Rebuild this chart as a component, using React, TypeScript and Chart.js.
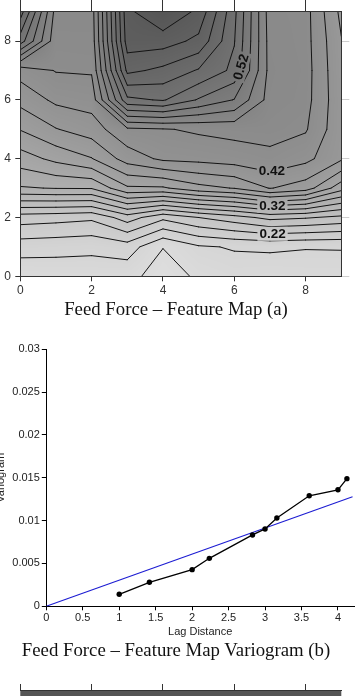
import { useEffect, useRef } from "react";
import { Chart, registerables } from "chart.js";

Chart.register(...registerables);

// Feed force feature map on the 10 x 10 grid: mapRowK holds the values along y = K for x = 0..9
const mapRow0 = [0.165, 0.167, 0.168, 0.1667, 0.15, 0.1633, 0.17, 0.168, 0.17, 0.17];
const mapRow1 = [0.1889, 0.1871, 0.1851, 0.1904, 0.1606, 0.1775, 0.1817, 0.183, 0.181, 0.1813];
const mapRow2 = [0.23, 0.2274, 0.224, 0.25, 0.225, 0.24, 0.2518, 0.266, 0.262, 0.255];
const mapRow3 = [0.3182, 0.321, 0.3215, 0.3568, 0.3573, 0.3733, 0.381, 0.401, 0.39, 0.348];
const mapRow4 = [0.3504, 0.3655, 0.379, 0.4089, 0.424, 0.4262, 0.43, 0.435, 0.4255, 0.403];
const mapRow5 = [0.381, 0.399, 0.41, 0.436, 0.4386, 0.443, 0.446, 0.447, 0.442, 0.405];
const mapRow6 = [0.4064, 0.4243, 0.4286, 0.535, 0.542, 0.518, 0.499, 0.452, 0.447, 0.405];
const mapRow7 = [0.4282, 0.441, 0.442, 0.585, 0.575, 0.558, 0.535, 0.453, 0.448, 0.403];
const mapRow8 = [0.53, 0.447, 0.448, 0.61, 0.609, 0.595, 0.541, 0.452, 0.447, 0.401];
const mapRow9 = [0.57, 0.452, 0.45, 0.615, 0.64, 0.615, 0.545, 0.45, 0.447, 0.395];
const featureMap = [mapRow0, mapRow1, mapRow2, mapRow3, mapRow4, mapRow5, mapRow6, mapRow7, mapRow8, mapRow9];

const mapXValues = [0, 1, 2, 3, 4, 5, 6, 7, 8, 9];
const mapYValues = [0, 1, 2, 3, 4, 5, 6, 7, 8, 9];
const contourLevels = [
  0.16, 0.18, 0.2, 0.22, 0.24, 0.26, 0.28, 0.3, 0.32, 0.34, 0.36, 0.38,
  0.4, 0.42, 0.44, 0.46, 0.48, 0.5, 0.52, 0.54, 0.56, 0.58, 0.6, 0.62,
];
const labelledLevels = [0.22, 0.32, 0.42, 0.52];
const mapTicks = [0, 2, 4, 6, 8];

// Experimental variogram of the map and its linear model
const lagDistance = [1, 1.414, 2, 2.236, 2.828, 3, 3.162, 3.606, 4, 4.123];
const variogramValues = [0.0014, 0.0028, 0.00428, 0.0056, 0.00833, 0.00903, 0.0103, 0.0129, 0.0136, 0.0149];
const modelLag = [0, 4.2];
const modelVariogram = [0, 0.0128];
const lagTicks = [0, 0.5, 1, 1.5, 2, 2.5, 3, 3.5, 4];
const variogramTicks = [0, 0.005, 0.01, 0.015, 0.02, 0.025, 0.03];

const SANS = "'Liberation Sans', Arial, sans-serif";
const SERIF = "'Liberation Serif', 'Times New Roman', serif";

// where along each labelled contour its value is written (data units)
const labelAnchors = [
  { x: 7.07, y: 1.56 },
  { x: 7.07, y: 2.34 },
  { x: 7.07, y: 3.5 },
  { x: 6.33, y: 7.11 },
];

function sampleMap(x: number, y: number): number {
  const nx = mapXValues.length;
  const ny = mapYValues.length;
  const fx = Math.min(Math.max(x, 0), nx - 1);
  const fy = Math.min(Math.max(y, 0), ny - 1);
  const i = Math.min(Math.floor(fx), nx - 2);
  const j = Math.min(Math.floor(fy), ny - 2);
  const tx = fx - i;
  const ty = fy - j;
  const z = featureMap;
  return (
    z[j][i] * (1 - tx) * (1 - ty) +
    z[j][i + 1] * tx * (1 - ty) +
    z[j + 1][i] * (1 - tx) * ty +
    z[j + 1][i + 1] * tx * ty
  );
}

function grayFor(v: number): number {
  return Math.round(Math.max(0, Math.min(255, 222 - (v - 0.15) * 279.6)));
}

type Seg = [number, number, number, number];

// marching squares on the grid, segments in data units
function contourSegments(level: number): Seg[] {
  const segs: Seg[] = [];
  const z = featureMap;
  for (let j = 0; j < mapYValues.length - 1; j++) {
    for (let i = 0; i < mapXValues.length - 1; i++) {
      const v0 = z[j][i];
      const v1 = z[j][i + 1];
      const v2 = z[j + 1][i + 1];
      const v3 = z[j + 1][i];
      const x0 = mapXValues[i], x1 = mapXValues[i + 1];
      const y0 = mapYValues[j], y1 = mapYValues[j + 1];
      const pts: [number, number][] = [];
      const edge = (va: number, vb: number, xa: number, ya: number, xb: number, yb: number) => {
        if (va < level !== vb < level) {
          const t = (level - va) / (vb - va);
          pts.push([xa + t * (xb - xa), ya + t * (yb - ya)]);
        }
      };
      edge(v0, v1, x0, y0, x1, y0);
      edge(v1, v2, x1, y0, x1, y1);
      edge(v2, v3, x1, y1, x0, y1);
      edge(v3, v0, x0, y1, x0, y0);
      if (pts.length === 2) {
        segs.push([pts[0][0], pts[0][1], pts[1][0], pts[1][1]]);
      } else if (pts.length === 4) {
        const c = (v0 + v1 + v2 + v3) / 4;
        if (c < level === v0 < level) {
          segs.push([pts[0][0], pts[0][1], pts[1][0], pts[1][1]]);
          segs.push([pts[2][0], pts[2][1], pts[3][0], pts[3][1]]);
        } else {
          segs.push([pts[0][0], pts[0][1], pts[3][0], pts[3][1]]);
          segs.push([pts[1][0], pts[1][1], pts[2][0], pts[2][1]]);
        }
      }
    }
  }
  return segs;
}

const contourPlugin = {
  id: "featureContours",
  beforeDraw(chart: any) {
    const { ctx, chartArea: a, scales } = chart;
    const xs = scales.x;
    const ys = scales.y;
    const left = Math.round(a.left);
    const top = Math.round(a.top);
    const w = Math.round(a.right) - left;
    const h = Math.round(a.bottom) - top;

    // shaded surface
    const off = document.createElement("canvas");
    off.width = w;
    off.height = h;
    const octx = off.getContext("2d")!;
    const img = octx.createImageData(w, h);
    for (let py = 0; py < h; py++) {
      const yv = ys.getValueForPixel(top + py + 0.5);
      for (let px = 0; px < w; px++) {
        const xv = xs.getValueForPixel(left + px + 0.5);
        const g = grayFor(sampleMap(xv, yv));
        const k = (py * w + px) * 4;
        img.data[k] = g;
        img.data[k + 1] = g;
        img.data[k + 2] = g;
        img.data[k + 3] = 255;
      }
    }
    octx.putImageData(img, 0, 0);
    ctx.drawImage(off, left, top);

    const toPx = (s: Seg): Seg => [
      xs.getPixelForValue(s[0]),
      ys.getPixelForValue(s[1]),
      xs.getPixelForValue(s[2]),
      ys.getPixelForValue(s[3]),
    ];
    const levelSegs = contourLevels.map((lv) => contourSegments(lv).map(toPx));

    // contour value labels
    ctx.save();
    ctx.font = `bold 13.5px ${SANS}`;
    const labels = labelledLevels.map((lv, li) => {
      const segs = levelSegs[contourLevels.findIndex((c) => Math.abs(c - lv) < 1e-9)];
      const tx = xs.getPixelForValue(labelAnchors[li].x);
      const ty = ys.getPixelForValue(labelAnchors[li].y);
      let best = { d: Infinity, x: tx, y: ty };
      for (const s of segs) {
        const dx = s[2] - s[0];
        const dy = s[3] - s[1];
        const len2 = dx * dx + dy * dy || 1;
        const t = Math.max(0, Math.min(1, ((tx - s[0]) * dx + (ty - s[1]) * dy) / len2));
        const px = s[0] + t * dx;
        const py = s[1] + t * dy;
        const d = Math.hypot(px - tx, py - ty);
        if (d < best.d) best = { d, x: px, y: py };
      }
      let sx = 0;
      let sy = 0;
      let rx = 0;
      let ry = 0;
      for (const s of segs) {
        const mx = (s[0] + s[2]) / 2;
        const my = (s[1] + s[3]) / 2;
        if (Math.hypot(mx - best.x, my - best.y) > 13) continue;
        let dx = s[2] - s[0];
        let dy = s[3] - s[1];
        const l = Math.hypot(dx, dy) || 1;
        dx /= l;
        dy /= l;
        if (rx === 0 && ry === 0) {
          rx = dx;
          ry = dy;
        } else if (dx * rx + dy * ry < 0) {
          dx = -dx;
          dy = -dy;
        }
        sx += dx;
        sy += dy;
      }
      let ang = Math.atan2(sy, sx);
      if (ang >= Math.PI / 2) ang -= Math.PI;
      if (ang < -Math.PI / 2) ang += Math.PI;
      if (ang > Math.PI / 3) ang -= Math.PI;
      const text = lv.toFixed(2);
      const tw = ctx.measureText(text).width;
      return { x: best.x, y: best.y, ang, text, hw: tw / 2 + 2, hh: 7 };
    });

    // contour lines, broken where a label sits
    ctx.beginPath();
    ctx.rect(a.left, a.top, a.right - a.left, a.bottom - a.top);
    for (const lb of labels) {
      const c = Math.cos(lb.ang);
      const s = Math.sin(lb.ang);
      const corners = [
        [-lb.hw, -lb.hh],
        [lb.hw, -lb.hh],
        [lb.hw, lb.hh],
        [-lb.hw, lb.hh],
      ].map(([u, v]) => [lb.x + u * c - v * s, lb.y + u * s + v * c]);
      ctx.moveTo(corners[0][0], corners[0][1]);
      for (let k = 1; k < 4; k++) ctx.lineTo(corners[k][0], corners[k][1]);
      ctx.closePath();
    }
    ctx.clip("evenodd");
    ctx.strokeStyle = "#141414";
    ctx.lineWidth = 1;
    ctx.lineJoin = "round";
    ctx.lineCap = "round";
    for (const segs of levelSegs) {
      ctx.beginPath();
      for (const s of segs) {
        ctx.moveTo(s[0], s[1]);
        ctx.lineTo(s[2], s[3]);
      }
      ctx.stroke();
    }
    ctx.restore();

    ctx.save();
    ctx.font = `bold 13.5px ${SANS}`;
    ctx.fillStyle = "#111";
    ctx.textAlign = "center";
    ctx.textBaseline = "middle";
    for (const lb of labels) {
      ctx.save();
      ctx.translate(lb.x, lb.y);
      ctx.rotate(lb.ang);
      ctx.fillText(lb.text, 0, 0.5);
      ctx.restore();
    }
    ctx.restore();
  },
};

const lowerMapPlugin = {
  id: "lowerMapSurface",
  beforeDraw(chart: any) {
    const { ctx, chartArea: a } = chart;
    ctx.save();
    ctx.fillStyle = "#555555";
    ctx.fillRect(a.left, a.top, a.right - a.left, a.bottom - a.top);
    ctx.restore();
  },
};

const setTicks = (values: number[]) => (s: any) => {
  s.ticks = values.map((v) => ({ value: v }));
};

function createMapChart(canvas: HTMLCanvasElement) {
  const tickFont = { family: SANS, size: 12 };
  return new Chart(canvas, {
    type: "scatter",
    data: { datasets: [] },
    options: {
      animation: false,
      responsive: false,
      devicePixelRatio: 1,
      layout: { padding: 0 },
      plugins: { legend: { display: false }, tooltip: { enabled: false } },
      scales: {
        x: {
          type: "linear",
          position: "bottom",
          min: 0,
          max: 9,
          afterBuildTicks: setTicks(mapTicks),
          afterFit: (s: any) => {
            s.height = 23.7;
          },
          grid: { drawOnChartArea: false, tickLength: 5, color: "#333" },
          border: { color: "#333" },
          ticks: { font: tickFont, color: "#333", padding: 2, maxRotation: 0 },
        },
        xTop: {
          type: "linear",
          axis: "x",
          position: "top",
          min: 0,
          max: 9,
          afterBuildTicks: setTicks(mapTicks),
          afterFit: (s: any) => {
            s.height = 9.3;
          },
          grid: { drawOnChartArea: false, tickLength: 12, color: "#333" },
          border: { color: "#333" },
          ticks: { display: false },
        },
        y: {
          type: "linear",
          position: "left",
          min: 0,
          max: 9,
          afterBuildTicks: setTicks(mapTicks),
          afterFit: (s: any) => {
            s.width = 20.3;
          },
          grid: { drawOnChartArea: false, tickLength: 5, color: "#333" },
          border: { color: "#333" },
          ticks: { font: tickFont, color: "#333", padding: 4.5 },
        },
        yRight: {
          type: "linear",
          axis: "y",
          position: "right",
          min: 0,
          max: 9,
          afterBuildTicks: setTicks(mapTicks),
          afterFit: (s: any) => {
            s.width = 16.7;
          },
          grid: { drawOnChartArea: false, tickLength: 8, color: "#cfcfcf" },
          border: { color: "#333" },
          ticks: { display: false },
        },
      },
    } as any,
    plugins: [contourPlugin],
  });
}

function createVariogramChart(canvas: HTMLCanvasElement) {
  const font = { family: SANS, size: 11 };
  return new Chart(canvas, {
    type: "scatter",
    data: {
      datasets: [
        {
          data: lagDistance.map((x, i) => ({ x, y: variogramValues[i] })),
          showLine: true,
          borderColor: "#000",
          backgroundColor: "#000",
          borderWidth: 1.3,
          pointRadius: 2.7,
          pointBorderWidth: 0,
        },
        {
          data: modelLag.map((x, i) => ({ x, y: modelVariogram[i] })),
          showLine: true,
          borderColor: "#1c1cd2",
          borderWidth: 1.1,
          pointRadius: 0,
        },
      ],
    },
    options: {
      animation: false,
      responsive: false,
      devicePixelRatio: 1,
      layout: { padding: { top: 9.3, left: 0, right: 0, bottom: 0 } },
      plugins: { legend: { display: false }, tooltip: { enabled: false } },
      scales: {
        x: {
          type: "linear",
          min: 0,
          max: 4.22,
          afterBuildTicks: setTicks(lagTicks),
          afterFit: (s: any) => {
            s.height = 33.7;
          },
          grid: { drawOnChartArea: false, tickLength: 4, color: "#000" },
          border: { color: "#000" },
          ticks: { font, color: "#222", padding: 1, maxRotation: 0, callback: (v: any) => String(v) },
          title: { display: true, text: "Lag Distance", font, color: "#222", padding: { top: 0, bottom: 1.7 } },
        },
        y: {
          type: "linear",
          min: 0,
          max: 0.03,
          afterBuildTicks: setTicks(variogramTicks),
          afterFit: (s: any) => {
            s.width = 52.3;
          },
          grid: { drawOnChartArea: false, tickLength: 4.5, color: "#000" },
          border: { color: "#000" },
          ticks: { font, color: "#222", padding: 2, callback: (v: any) => String(v) },
          title: { display: true, text: "Variogram", font, color: "#222", padding: 0 },
        },
      },
    } as any,
  });
}

function createLowerMapChart(canvas: HTMLCanvasElement) {
  return new Chart(canvas, {
    type: "scatter",
    data: { datasets: [] },
    options: {
      animation: false,
      responsive: false,
      devicePixelRatio: 1,
      layout: { padding: { left: 20.3, right: 16.7, top: 0, bottom: 0 } },
      plugins: { legend: { display: false }, tooltip: { enabled: false } },
      scales: {
        x: {
          type: "linear",
          position: "top",
          min: 0,
          max: 9,
          afterBuildTicks: setTicks(mapTicks),
          afterFit: (s: any) => {
            s.height = 20;
          },
          grid: { drawOnChartArea: false, tickLength: 6, color: "#333" },
          border: { color: "#333" },
          ticks: { display: false },
        },
        y: { type: "linear", min: 0, max: 9, display: false },
      },
    } as any,
    plugins: [lowerMapPlugin],
  });
}

const titleStyle = (top: number): any => ({
  position: "absolute",
  left: 0,
  top,
  width: 352,
  textAlign: "center",
  fontFamily: SERIF,
  fontSize: 18.8,
  lineHeight: "20px",
  color: "#111",
  whiteSpace: "nowrap",
});

export default function App() {
  const mapRef = useRef<HTMLCanvasElement>(null);
  const varioRef = useRef<HTMLCanvasElement>(null);
  const lowerRef = useRef<HTMLCanvasElement>(null);

  useEffect(() => {
    const charts = [
      createMapChart(mapRef.current!),
      createVariogramChart(varioRef.current!),
      createLowerMapChart(lowerRef.current!),
    ];
    return () => charts.forEach((c) => c.destroy());
  }, []);

  return (
    <div
      style={{
        position: "absolute",
        left: 0,
        top: 0,
        width: 358,
        height: 696,
        overflow: "hidden",
        background: "#fff",
      }}
    >
      <canvas
        ref={mapRef}
        width={358}
        height={300}
        style={{ position: "absolute", left: 0, top: 0, width: 358, height: 300 }}
      />
      <div style={titleStyle(299)}>Feed Force – Feature Map (a)</div>
      <canvas
        ref={varioRef}
        width={364}
        height={300}
        style={{ position: "absolute", left: -6, top: 340, width: 364, height: 300 }}
      />
      <div style={titleStyle(639.7)}>Feed Force – Feature Map Variogram (b)</div>
      <canvas
        ref={lowerRef}
        width={358}
        height={60}
        style={{ position: "absolute", left: 0, top: 670, width: 358, height: 60 }}
      />
    </div>
  );
}
